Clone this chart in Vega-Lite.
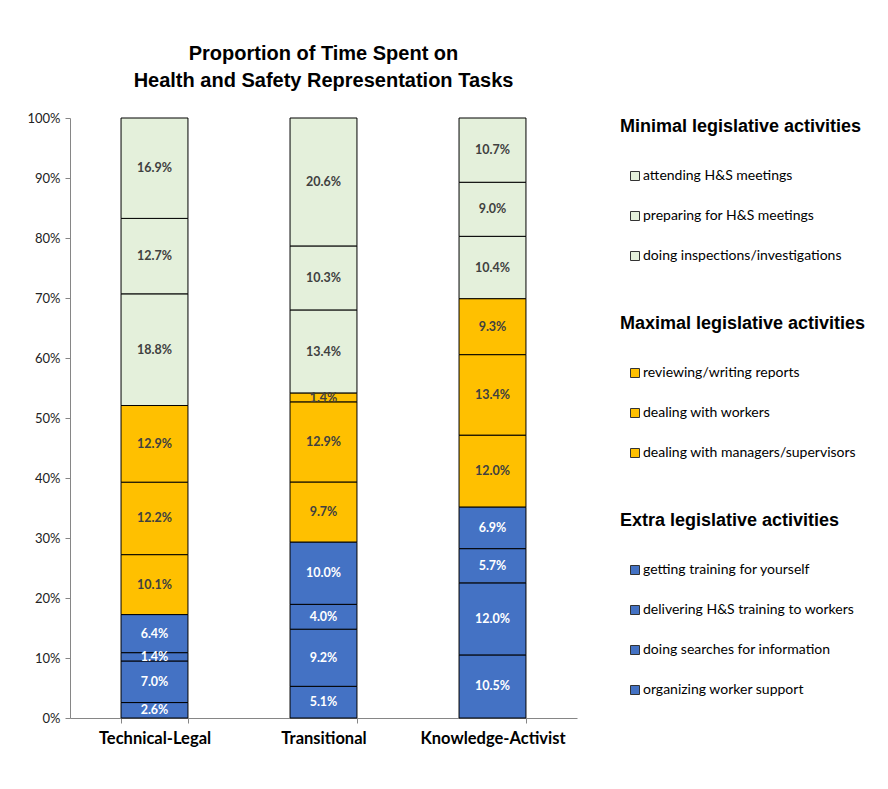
{
  "$schema": "https://vega.github.io/schema/vega-lite/v6.json",
  "width": 507,
  "height": 600,
  "padding": {"left": 26, "top": 44, "right": 5, "bottom": 5},
  "background": "white",
  "title": {
    "text": ["Proportion of Time Spent on", "Health and Safety Representation Tasks"],
    "font": "Liberation Sans",
    "fontSize": 20,
    "fontWeight": "bold",
    "color": "black",
    "lineHeight": 27,
    "anchor": "middle",
    "frame": "group",
    "offset": 21
  },
  "data": {
    "values": [
      {"type": "Technical-Legal", "group": "Extra", "activity": "organizing worker support", "order": 1, "value": 0.026},
      {"type": "Technical-Legal", "group": "Extra", "activity": "doing searches for information", "order": 2, "value": 0.070},
      {"type": "Technical-Legal", "group": "Extra", "activity": "delivering H&S training to workers", "order": 3, "value": 0.014},
      {"type": "Technical-Legal", "group": "Extra", "activity": "getting training for yourself", "order": 4, "value": 0.064},
      {"type": "Technical-Legal", "group": "Maximal", "activity": "dealing with managers/supervisors", "order": 5, "value": 0.101},
      {"type": "Technical-Legal", "group": "Maximal", "activity": "dealing with workers", "order": 6, "value": 0.122},
      {"type": "Technical-Legal", "group": "Maximal", "activity": "reviewing/writing reports", "order": 7, "value": 0.129},
      {"type": "Technical-Legal", "group": "Minimal", "activity": "doing inspections/investigations", "order": 8, "value": 0.188},
      {"type": "Technical-Legal", "group": "Minimal", "activity": "preparing for H&S meetings", "order": 9, "value": 0.127},
      {"type": "Technical-Legal", "group": "Minimal", "activity": "attending H&S meetings", "order": 10, "value": 0.169},
      {"type": "Transitional", "group": "Extra", "activity": "organizing worker support", "order": 1, "value": 0.051},
      {"type": "Transitional", "group": "Extra", "activity": "doing searches for information", "order": 2, "value": 0.092},
      {"type": "Transitional", "group": "Extra", "activity": "delivering H&S training to workers", "order": 3, "value": 0.040},
      {"type": "Transitional", "group": "Extra", "activity": "getting training for yourself", "order": 4, "value": 0.100},
      {"type": "Transitional", "group": "Maximal", "activity": "dealing with managers/supervisors", "order": 5, "value": 0.097},
      {"type": "Transitional", "group": "Maximal", "activity": "dealing with workers", "order": 6, "value": 0.129},
      {"type": "Transitional", "group": "Maximal", "activity": "reviewing/writing reports", "order": 7, "value": 0.014},
      {"type": "Transitional", "group": "Minimal", "activity": "doing inspections/investigations", "order": 8, "value": 0.134},
      {"type": "Transitional", "group": "Minimal", "activity": "preparing for H&S meetings", "order": 9, "value": 0.103},
      {"type": "Transitional", "group": "Minimal", "activity": "attending H&S meetings", "order": 10, "value": 0.206},
      {"type": "Knowledge-Activist", "group": "Extra", "activity": "organizing worker support", "order": 1, "value": 0.105},
      {"type": "Knowledge-Activist", "group": "Extra", "activity": "doing searches for information", "order": 2, "value": 0.120},
      {"type": "Knowledge-Activist", "group": "Extra", "activity": "delivering H&S training to workers", "order": 3, "value": 0.057},
      {"type": "Knowledge-Activist", "group": "Extra", "activity": "getting training for yourself", "order": 4, "value": 0.069},
      {"type": "Knowledge-Activist", "group": "Maximal", "activity": "dealing with managers/supervisors", "order": 5, "value": 0.120},
      {"type": "Knowledge-Activist", "group": "Maximal", "activity": "dealing with workers", "order": 6, "value": 0.134},
      {"type": "Knowledge-Activist", "group": "Maximal", "activity": "reviewing/writing reports", "order": 7, "value": 0.093},
      {"type": "Knowledge-Activist", "group": "Minimal", "activity": "doing inspections/investigations", "order": 8, "value": 0.104},
      {"type": "Knowledge-Activist", "group": "Minimal", "activity": "preparing for H&S meetings", "order": 9, "value": 0.090},
      {"type": "Knowledge-Activist", "group": "Minimal", "activity": "attending H&S meetings", "order": 10, "value": 0.107}
    ]
  },
  "transform": [
    {"stack": "value", "groupby": ["type"], "sort": [{"field": "order", "order": "ascending"}], "offset": "normalize", "as": ["y0", "y1"]},
    {"calculate": "(datum.y0 + datum.y1) / 2", "as": "mid"}
  ],
  "encoding": {
    "x": {
      "field": "type",
      "type": "nominal",
      "sort": ["Technical-Legal", "Transitional", "Knowledge-Activist"],
      "scale": {"paddingInner": 0.604, "paddingOuter": 0.302},
      "axis": {
        "title": null,
        "labelAngle": 0,
        "labelFont": "Lato",
        "labelFontSize": 16.5,
        "labelFontWeight": "bold",
        "labelColor": "black",
        "labelPadding": 7,
        "tickBand": "extent",
        "tickSize": 5,
        "tickColor": "#868686",
        "domainColor": "#868686",
        "grid": false
      }
    }
  },
  "layer": [
    {
      "transform": [{"filter": "datum.group === 'Minimal'"}],
      "mark": {"type": "bar", "stroke": "black", "strokeWidth": 1},
      "encoding": {
        "y": {
          "field": "y0", "type": "quantitative",
          "scale": {"domain": [0, 1]},
          "axis": {
            "title": null, "format": ".0%", "values": [0, 0.1, 0.2, 0.3, 0.4, 0.5, 0.6, 0.7, 0.8, 0.9, 1],
            "grid": false, "labelFont": "Lato", "labelFontSize": 13, "labelColor": "#222",
            "tickSize": 5, "tickColor": "#868686", "domainColor": "#868686", "labelPadding": 5
          }
        },
        "y2": {"field": "y1"},
        "color": {
          "field": "activity", "type": "nominal",
          "scale": {"domain": ["attending H&S meetings", "preparing for H&S meetings", "doing inspections/investigations"], "range": ["#E4F0DB", "#E4F0DB", "#E4F0DB"]},
          "legend": {"title": "Minimal legislative activities"}
        }
      }
    },
    {
      "transform": [{"filter": "datum.group === 'Maximal'"}],
      "mark": {"type": "bar", "stroke": "black", "strokeWidth": 1},
      "encoding": {
        "y": {"field": "y0", "type": "quantitative"},
        "y2": {"field": "y1"},
        "color": {
          "field": "activity", "type": "nominal",
          "scale": {"domain": ["reviewing/writing reports", "dealing with workers", "dealing with managers/supervisors"], "range": ["#FFC000", "#FFC000", "#FFC000"]},
          "legend": {"title": "Maximal legislative activities"}
        }
      }
    },
    {
      "transform": [{"filter": "datum.group === 'Extra'"}],
      "mark": {"type": "bar", "stroke": "black", "strokeWidth": 1},
      "encoding": {
        "y": {"field": "y0", "type": "quantitative"},
        "y2": {"field": "y1"},
        "color": {
          "field": "activity", "type": "nominal",
          "scale": {"domain": ["getting training for yourself", "delivering H&S training to workers", "doing searches for information", "organizing worker support"], "range": ["#4472C4", "#4472C4", "#4472C4", "#4472C4"]},
          "legend": {"title": "Extra legislative activities"}
        }
      }
    },
    {
      "transform": [{"filter": "datum.group !== 'Extra'"}],
      "mark": {"type": "text", "font": "Lato", "fontSize": 12.5, "fontWeight": "bold", "color": "#404040", "baseline": "middle"},
      "encoding": {
        "y": {"field": "mid", "type": "quantitative"},
        "text": {"field": "value", "type": "quantitative", "format": ".1%"}
      }
    },
    {
      "transform": [{"filter": "datum.group === 'Extra'"}],
      "mark": {"type": "text", "font": "Lato", "fontSize": 12.5, "fontWeight": "bold", "color": "white", "baseline": "middle"},
      "encoding": {
        "y": {"field": "mid", "type": "quantitative"},
        "text": {"field": "value", "type": "quantitative", "format": ".1%"}
      }
    }
  ],
  "resolve": {"scale": {"color": "independent"}, "legend": {"color": "independent"}},
  "config": {
    "view": {"stroke": null},
    "legend": {
      "orient": "right",
      "offset": 43,
      "symbolType": "square",
      "symbolSize": 81,
      "symbolStrokeColor": "#333",
      "symbolStrokeWidth": 1,
      "symbolOffset": 8,
      "labelFont": "Lato",
      "labelFontSize": 14,
      "labelColor": "black",
      "labelOffset": 1,
      "labelLimit": 400,
      "titleFont": "Liberation Sans",
      "titleFontSize": 18,
      "titleFontWeight": "bold",
      "titleColor": "black",
      "titleLimit": 400,
      "titlePadding": 33,
      "rowPadding": 26,
      "layout": {"right": {"anchor": "start", "direction": "vertical", "margin": 52}}
    }
  }
}
